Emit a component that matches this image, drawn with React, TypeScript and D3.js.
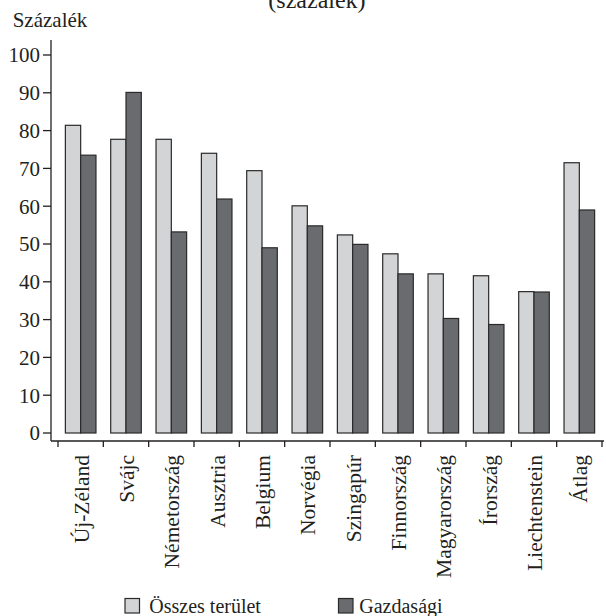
import React from "react";
import * as d3 from "d3";

const categories = ["Új-Zéland", "Svájc", "Németország", "Ausztria", "Belgium", "Norvégia", "Szingapúr", "Finnország", "Magyarország", "Írország", "Liechtenstein", "Átlag"];
const osszes = [81.4, 77.7, 77.7, 74.0, 69.4, 60.1, 52.4, 47.4, 42.1, 41.6, 37.4, 71.5];
const gazdasagi = [73.5, 90.1, 53.2, 61.9, 49.0, 54.8, 49.9, 42.1, 30.3, 28.7, 37.3, 59.0];
const yTicks = [0, 10, 20, 30, 40, 50, 60, 70, 80, 90, 100];
const seriesNames = ["Összes terület", "Gazdasági"];
const colors = ["#d3d4d6", "#6a6b6f"];

const FONT = `"Liberation Serif"`;

export default function App() {
  const W = 606, H = 616;
  const y = d3.scaleLinear().domain([0, 100]).range([433, 55]);
  const x = d3.scaleBand().domain(categories).range([58, 602]).paddingInner(0).paddingOuter(0);
  const bw = 15.3;
  const boundaries = [...categories.map((c) => x(c)!), 602];
  const txt = "#231f20";
  const ts = { fontFamily: FONT };

  return (
    <svg width={W} height={H} style={{ position: "absolute", left: 0, top: 0, background: "#fff" }}>
      <text x={317} y={8} textAnchor="middle" fontSize={24} fill={txt} style={ts}>(százalék)</text>
      <text x={12.7} y={27} fontSize={21} fill={txt} style={ts}>Százalék</text>

      {categories.map((c, i) => {
        const cx = x(c)! + x.bandwidth() / 2;
        return (
          <g key={c}>
            <rect x={cx - bw} y={y(osszes[i])} width={bw} height={y(0) - y(osszes[i])} fill={colors[0]} stroke="#2a2a2a" strokeWidth={1.2} />
            <rect x={cx} y={y(gazdasagi[i])} width={bw} height={y(0) - y(gazdasagi[i])} fill={colors[1]} stroke="#2a2a2a" strokeWidth={1.2} />
            <text transform={`translate(${cx + 8},455) rotate(-90)`} textAnchor="end" fontSize={21.5} fill={txt} style={ts}>{c}</text>
          </g>
        );
      })}

      <line x1={51} x2={51} y1={40} y2={441} stroke={txt} strokeWidth={1.3} />
      {yTicks.map((t) => (
        <g key={t}>
          <line x1={43} x2={51} y1={y(t)} y2={y(t)} stroke={txt} strokeWidth={1.3} />
          <text x={40} y={y(t)} dy="0.35em" textAnchor="end" fontSize={21} fill={txt} style={ts}>{t}</text>
        </g>
      ))}
      <line x1={51} x2={604} y1={441} y2={441} stroke={txt} strokeWidth={1.3} />
      {boundaries.map((b, i) => (
        <line key={i} x1={b} x2={b} y1={441} y2={447} stroke={txt} strokeWidth={1.3} />
      ))}

      <rect x={125} y={598.5} width={14.5} height={14.5} fill={colors[0]} stroke="#2a2a2a" strokeWidth={1.2} />
      <text x={149.3} y={613} fontSize={20} fill={txt} style={ts}>{seriesNames[0]}</text>
      <rect x={338.5} y={598.5} width={14.5} height={14.5} fill={colors[1]} stroke="#2a2a2a" strokeWidth={1.2} />
      <text x={359.3} y={613} fontSize={20} fill={txt} style={ts}>{seriesNames[1]}</text>
    </svg>
  );
}
